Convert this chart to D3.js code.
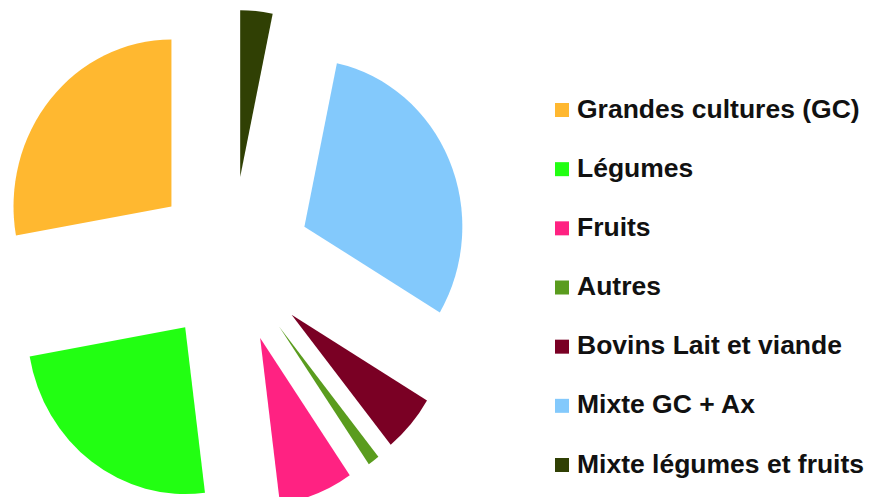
<!DOCTYPE html>
<html>
<head>
<meta charset="utf-8">
<script src="https://cdn.jsdelivr.net/npm/d3@7"></script>
<style>
  html, body { margin: 0; padding: 0; background: #fff; }
  svg { display: block; }
</style>
</head>
<body>
<svg id="chart" width="869" height="497"></svg>
<script>
const categories = ["Grandes cultures (GC)", "Légumes", "Fruits", "Autres", "Bovins Lait et viande", "Mixte GC + Ax", "Mixte légumes et fruits"];
const values = [27.8, 24.2, 7.6, 1.2, 5.6, 30.3, 3.3];
const colors = ["#ffb830", "#22ff12", "#ff2282", "#5a9c1e", "#7a0024", "#83c9fc", "#304004"];

const svg = d3.select("#chart");
const cx = 232, cy = 260, radius = 162, explode = 81;

const data = categories.map((c, i) => ({ name: c, value: values[i], color: colors[i] }));

// Counter-clockwise layout starting at 12 o'clock
const pie = d3.pie().value(d => d.value).sort(null).startAngle(0).endAngle(-2 * Math.PI);
const arcs = pie(data);
const arc = d3.arc().innerRadius(0).outerRadius(radius);

const g = svg.append("g").attr("transform", `translate(${cx},${cy}) scale(0.975,1.03)`);
g.selectAll("path").data(arcs).join("path")
  .attr("d", d => arc({ startAngle: Math.min(d.startAngle, d.endAngle), endAngle: Math.max(d.startAngle, d.endAngle) }))
  .attr("fill", d => d.data.color)
  .attr("transform", d => {
    const mid = (d.startAngle + d.endAngle) / 2;
    return `translate(${explode * Math.sin(mid)},${-explode * Math.cos(mid)})`;
  });

// Legend
const legendY = d3.scalePoint().domain(categories).range([110, 465]);
const legend = svg.append("g");
const items = legend.selectAll("g").data(data).join("g")
  .attr("transform", d => `translate(555,${legendY(d.name)})`);
items.append("rect").attr("x", 0).attr("y", -7).attr("width", 14).attr("height", 14)
  .attr("fill", d => d.color);
items.append("text")
  .attr("transform", "translate(22,0) scale(1.06,1)")
  .attr("dy", "0.3em")
  .attr("font-family", "'Liberation Sans', Arial, sans-serif")
  .attr("font-weight", "bold").attr("font-size", 25).attr("fill", "#111")
  .text(d => d.name);
</script>
</body>
</html>
